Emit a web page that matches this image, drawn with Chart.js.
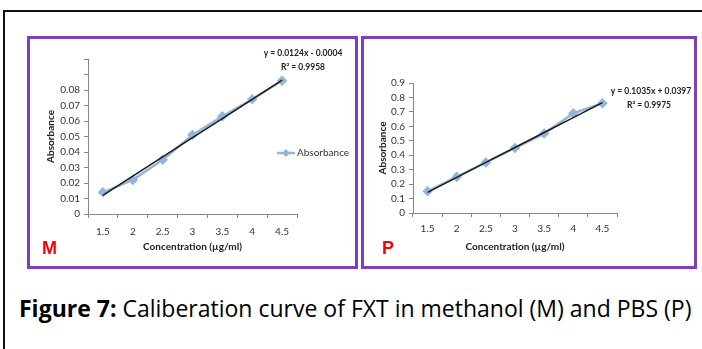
<!DOCTYPE html>
<html>
<head>
<meta charset="utf-8">
<script src="https://cdn.jsdelivr.net/npm/chart.js@4.4.0/dist/chart.umd.min.js"></script>
<style>
body { margin: 0; width: 702px; height: 349px; background: #fff; position: relative; overflow: hidden; font-family: Lato, sans-serif; }
#frame { position: absolute; left: 3px; top: 10px; width: 760px; height: 400px; border-top: 2px solid #111; border-left: 2px solid #111; }
.panel { position: absolute; top: 36px; height: 227px; border: 3px solid #7d3fc0; }
#panelM { left: 27px; width: 325px; }
#panelP { left: 361px; width: 330px; }
.tag { position: absolute; top: 238px; line-height: 20px; color: #f00; font: bold 18px Arial, 'Liberation Sans', sans-serif; }
#caption { position: absolute; left: 19px; top: 292px; line-height: 28px; font: 23px 'Open Sans', sans-serif; color: #000; white-space: nowrap; }
</style>
</head>
<body>
<div id="frame"></div>
<div class="panel" id="panelM"><canvas id="chart_methanol"></canvas></div>
<div class="panel" id="panelP"><canvas id="chart_pbs"></canvas></div>
<div class="tag" style="left:42px">M</div>
<div class="tag" style="left:382px">P</div>
<div id="caption"><b>Figure 7:</b> Caliberation curve of FXT in methanol (M) and PBS (P)</div>
<script>
// concentration (µg/ml)
var concLabels = ['1.5', '2', '2.5', '3', '3.5', '4', '4.5'];

// absorbance readings
var absMethanol = [0.014, 0.022, 0.035, 0.051, 0.063, 0.074, 0.086];
var absPBS = [0.15, 0.25, 0.35, 0.45, 0.55, 0.69, 0.76];

// linear trendline values at each point
var trendMethanol = [0.0120, 0.0244, 0.0368, 0.0492, 0.0616, 0.0740, 0.0864];
var trendPBS = [0.1432, 0.2467, 0.3502, 0.4537, 0.5572, 0.6607, 0.7642];

var eqMethanol = ['y = 0.0124x - 0.0004', 'R\u00B2 = 0.9958'];
var eqPBS = ['y = 0.1035x + 0.0397', 'R\u00B2 = 0.9975'];

var axisGrey = '#868686';
var pointBlue = '#93b5dc';

// trendline equation + optional legend, drawn on top
var notes = {
	id: 'notes',
	afterDraw: function (chart) {
		var o = chart.options.plugins.notes;
		var ctx = chart.ctx;
		ctx.save();
		ctx.fillStyle = '#222';
		ctx.font = 'bold 8.5px Lato';
		ctx.textAlign = 'center';
		ctx.textBaseline = 'middle';
		ctx.fillText(o.eq[0], o.eqX, o.eqY);
		ctx.fillText(o.eq[1], o.eqX2, o.eqY + 14);
		if (o.legend) {
			var lx = o.legend.x, ly = o.legend.y;
			ctx.strokeStyle = pointBlue;
			ctx.lineWidth = 2.5;
			ctx.beginPath();
			ctx.moveTo(lx, ly);
			ctx.lineTo(lx + 18, ly);
			ctx.stroke();
			ctx.fillStyle = pointBlue;
			ctx.beginPath();
			ctx.moveTo(lx + 9, ly - 4);
			ctx.lineTo(lx + 13, ly);
			ctx.lineTo(lx + 9, ly + 4);
			ctx.lineTo(lx + 5, ly);
			ctx.closePath();
			ctx.fill();
			ctx.fillStyle = '#333';
			ctx.font = '10px Lato';
			ctx.textAlign = 'left';
			ctx.fillText(o.legend.text, lx + 20, ly);
		}
		ctx.restore();
	}
};

function makeChart(id, data, trend, s) {
	return new Chart(document.getElementById(id), {
		type: 'line',
		data: {
			labels: concLabels,
			datasets: [
				{
					label: 'Absorbance',
					data: data,
					borderColor: pointBlue,
					backgroundColor: pointBlue,
					borderWidth: 2.5,
					pointStyle: 'rectRot',
					pointRadius: 3.5,
					order: 1
				},
				{
					label: 'Linear',
					data: trend,
					borderColor: '#1a1a1a',
					borderWidth: 1.5,
					pointRadius: 0,
					order: 0
				}
			]
		},
		options: {
			responsive: true,
			maintainAspectRatio: false,
			animation: false,
			layout: { padding: { top: s.top, right: s.right, bottom: 0, left: 0 } },
			plugins: {
				legend: { display: false },
				tooltip: { enabled: false },
				notes: s.notes
			},
			scales: {
				x: {
					offset: true,
					grid: { offset: true, drawOnChartArea: false, color: axisGrey, tickLength: 4 },
					border: { color: axisGrey },
					ticks: { color: '#333', font: { family: 'Lato', size: 10 }, padding: s.xTickPad },
					title: { display: true, text: 'Concentration (\u00B5g/ml)', color: '#222', font: { family: 'Lato', size: 10, weight: 'bold' }, padding: { top: 0, bottom: 13 } },
					afterFit: function (sc) { sc.height = s.xHeight; }
				},
				y: {
					min: 0,
					max: s.yMax,
					grid: { drawOnChartArea: false, color: axisGrey, tickLength: 4 },
					border: { color: axisGrey },
					ticks: {
						stepSize: s.yStep,
						autoSkip: false,
						color: '#333',
						font: { family: 'Lato', size: 10 },
						padding: 4,
						callback: s.yLabel
					},
					title: { display: true, text: 'Absorbance', color: '#222', font: { family: 'Lato', size: 10, weight: 'bold' }, padding: { top: s.yTitlePad, bottom: 0 } },
					afterFit: function (sc) { sc.width = s.yWidth; }
				}
			}
		},
		plugins: [notes]
	});
}

var chart_methanol = makeChart('chart_methanol', absMethanol, trendMethanol, {
	top: 20, right: 58, xHeight: 52, yWidth: 58, yTitlePad: 15, xTickPad: 8,
	yMax: 0.1, yStep: 0.01,
	yLabel: function (v) { if (v > 0.085) return ''; return v === 0 ? '0' : v.toFixed(2); },
	notes: { eq: eqMethanol, eqX: 273, eqX2: 273, eqY: 14, legend: { x: 247, y: 114, text: 'Absorbance' } }
});

var chart_pbs = makeChart('chart_pbs', absPBS, trendPBS, {
	top: 44, right: 77, xHeight: 53, yWidth: 49, yTitlePad: 13, xTickPad: 6,
	yMax: 0.9, yStep: 0.1,
	yLabel: function (v) { return v === 0 ? '0' : v.toFixed(1); },
	notes: { eq: eqPBS, eqX: 287, eqX2: 285, eqY: 52 }
});
</script>
</body>
</html>
